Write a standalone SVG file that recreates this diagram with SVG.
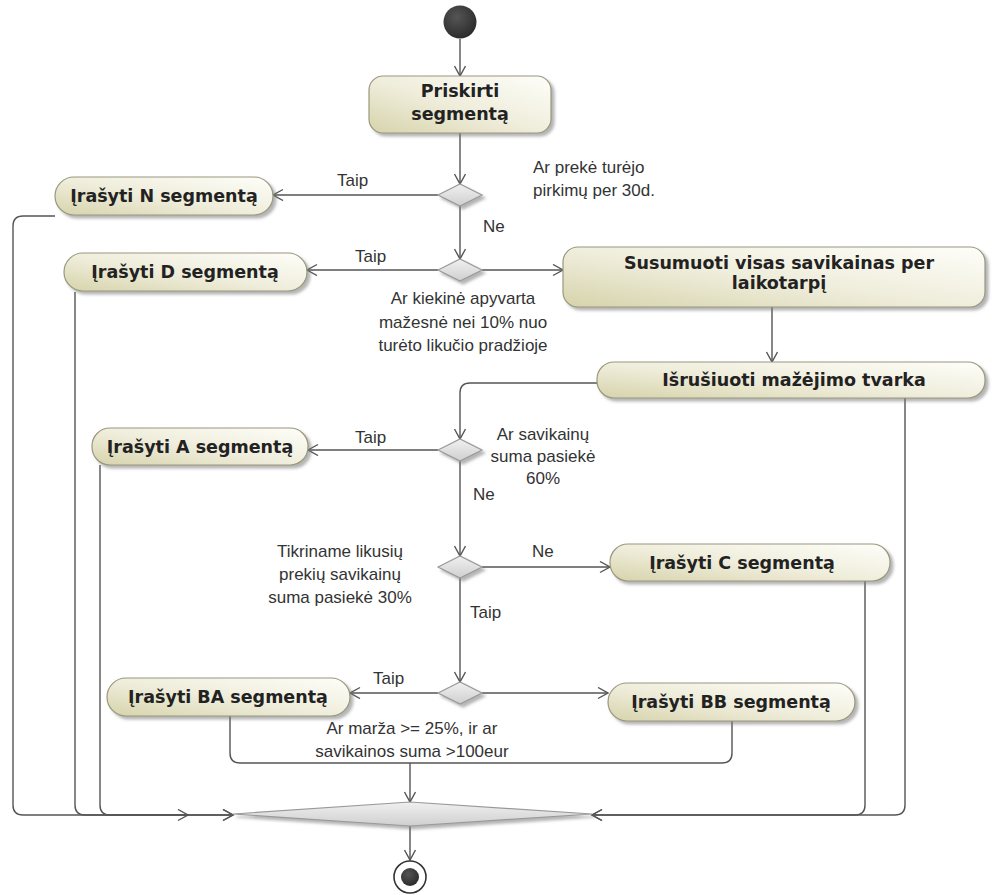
<svg xmlns="http://www.w3.org/2000/svg" width="992" height="895" viewBox="0 0 992 895">
<defs>
  <linearGradient id="gBox" x1="0" y1="1" x2="1" y2="0">
    <stop offset="0" stop-color="#d6d3ab"/>
    <stop offset="0.45" stop-color="#eeecd9"/>
    <stop offset="1" stop-color="#fefefa"/>
  </linearGradient>
  <linearGradient id="gDia" x1="0" y1="0" x2="0" y2="1">
    <stop offset="0" stop-color="#f0f0f0"/>
    <stop offset="1" stop-color="#cfcfcf"/>
  </linearGradient>
  <radialGradient id="gStart" cx="0.4" cy="0.35" r="0.7">
    <stop offset="0" stop-color="#555"/>
    <stop offset="1" stop-color="#2a2a2a"/>
  </radialGradient>
  <filter id="sh" x="-10%" y="-20%" width="130%" height="160%">
    <feDropShadow dx="3" dy="3" stdDeviation="1.5" flood-color="#777" flood-opacity="0.55"/>
  </filter>
  <marker id="arr" markerUnits="userSpaceOnUse" markerWidth="14" markerHeight="14" refX="11" refY="6" orient="auto">
    <path d="M1,0.5 L11,6 L1,11.5" fill="none" stroke="#555" stroke-width="1.4"/>
  </marker>
  <style>
    .box{fill:url(#gBox);stroke:#9a987e;stroke-width:1.2;filter:url(#sh)}
    .dia{fill:url(#gDia);stroke:#9a9a9a;stroke-width:1.2;filter:url(#sh)}
    .edge{fill:none;stroke:#555;stroke-width:1.4}
    .arr{marker-end:url(#arr)}
    .t{font-family:"DejaVu Sans",Verdana,sans-serif;font-weight:bold;font-size:17.5px;fill:#222;text-anchor:middle}
    .l{font-family:"Liberation Sans",Arial,sans-serif;font-size:17px;fill:#333}
    .c{text-anchor:middle}
  </style>
</defs>
<rect width="992" height="895" fill="#ffffff"/>

<g id="connectors">
  <path class="edge arr" d="M460,39 V76"/>
  <path class="edge arr" d="M460,133 V184"/>
  <path class="edge arr" d="M438,195 H273"/>
  <path class="edge arr" d="M460,206 V259"/>
  <path class="edge arr" d="M438,270 H307"/>
  <path class="edge arr" d="M482,270 H563"/>
  <path class="edge arr" d="M772,307 V362"/>
  <path class="edge arr" d="M597,383 H470 Q460,383 460,393 V439"/>
  <path class="edge arr" d="M438,450 H308"/>
  <path class="edge arr" d="M460,461 V556"/>
  <path class="edge arr" d="M482,567 H610"/>
  <path class="edge arr" d="M460,578 V682"/>
  <path class="edge arr" d="M438,693 H350"/>
  <path class="edge arr" d="M482,693 H608"/>
  <path class="edge" d="M230,716 V753 Q230,763 240,763 H722 Q732,763 732,753 V721"/>
  <path class="edge arr" d="M410,763 V802"/>
  <path class="edge arr" d="M55,216 H23 Q13,216 13,226 V805 Q13,815 23,815 H233"/>
  <path class="edge arr" d="M75,292 V805 Q75,815 85,815 H188"/>
  <path class="edge arr" d="M100,465 V805 Q100,815 110,815 H233"/>
  <path class="edge arr" d="M865,581 V805 Q865,815 855,815 H592"/>
  <path class="edge arr" d="M905,398 V805 Q905,815 895,815 H592"/>
  <path class="edge arr" d="M410,826 V860"/>
</g>

<g id="start"><circle cx="460" cy="22" r="16.5" fill="url(#gStart)"/></g>

<g id="priskirti">
  <rect class="box" x="369" y="76" width="182" height="57" rx="14"/>
  <text class="t" x="460" y="97">Priskirti</text>
  <text class="t" x="460" y="120">segmentą</text>
</g>

<g id="d1">
  <polygon class="dia" points="438,195 460,184 482,195 460,206"/>
  <text class="l" x="533" y="173">Ar prekė turėjo</text>
  <text class="l" x="533" y="196">pirkimų per 30d.</text>
</g>
<text class="l" x="337" y="186">Taip</text>
<text class="l" x="483" y="232">Ne</text>

<g id="irasyti-n">
  <rect class="box" x="55" y="177" width="218" height="38" rx="19"/>
  <text class="t" x="164" y="202">Įrašyti N segmentą</text>
</g>

<g id="d2">
  <polygon class="dia" points="438,270 460,259 482,270 460,281"/>
  <text class="l c" x="463" y="304">Ar kiekinė apyvarta</text>
  <text class="l c" x="463" y="328">mažesnė nei 10% nuo</text>
  <text class="l c" x="463" y="351">turėto likučio pradžioje</text>
</g>
<text class="l" x="355" y="262">Taip</text>

<g id="irasyti-d">
  <rect class="box" x="64" y="253" width="243" height="38" rx="19"/>
  <text class="t" x="185" y="278">Įrašyti D segmentą</text>
</g>

<g id="susumuoti">
  <rect class="box" x="563" y="247" width="422" height="60" rx="15"/>
  <text class="t" x="779" y="269">Susumuoti visas savikainas per</text>
  <text class="t" x="779" y="289">laikotarpį</text>
</g>

<g id="isrusiuoti">
  <rect class="box" x="597" y="362" width="388" height="36" rx="17"/>
  <text class="t" x="794" y="386">Išrušiuoti mažėjimo tvarka</text>
</g>

<g id="d3">
  <polygon class="dia" points="438,450 460,439 482,450 460,461"/>
  <text class="l c" x="543" y="440">Ar savikainų</text>
  <text class="l c" x="543" y="462">suma pasiekė</text>
  <text class="l c" x="543" y="484">60%</text>
</g>
<text class="l" x="355" y="443">Taip</text>
<text class="l" x="473" y="500">Ne</text>

<g id="irasyti-a">
  <rect class="box" x="92" y="428" width="216" height="37" rx="18"/>
  <text class="t" x="200" y="453">Įrašyti A segmentą</text>
</g>

<g id="d4">
  <polygon class="dia" points="438,567 460,556 482,567 460,578"/>
  <text class="l c" x="340" y="557">Tikriname likusių</text>
  <text class="l c" x="340" y="580">prekių savikainų</text>
  <text class="l c" x="340" y="603">suma pasiekė 30%</text>
</g>
<text class="l" x="532" y="557">Ne</text>
<text class="l" x="470" y="618">Taip</text>

<g id="irasyti-c">
  <rect class="box" x="610" y="544" width="280" height="37" rx="18"/>
  <text class="t" x="742" y="569">Įrašyti C segmentą</text>
</g>

<g id="d5">
  <polygon class="dia" points="438,693 460,682 482,693 460,704"/>
  <text class="l c" x="412" y="734">Ar marža &gt;= 25%, ir ar</text>
  <text class="l c" x="412" y="757">savikainos suma &gt;100eur</text>
</g>
<text class="l" x="373" y="684">Taip</text>

<g id="irasyti-ba">
  <rect class="box" x="107" y="678" width="243" height="38" rx="19"/>
  <text class="t" x="228" y="703">Įrašyti BA segmentą</text>
</g>

<g id="irasyti-bb">
  <rect class="box" x="608" y="683" width="247" height="38" rx="19"/>
  <text class="t" x="731" y="708">Įrašyti BB segmentą</text>
</g>

<g id="merge">
  <polygon class="dia" points="233,814 410,802 592,814 410,826"/>
</g>

<g id="end">
  <circle cx="410" cy="877" r="16" fill="#ffffff" stroke="#333" stroke-width="1.6"/>
  <circle cx="410" cy="877" r="9" fill="url(#gStart)"/>
</g>
</svg>
